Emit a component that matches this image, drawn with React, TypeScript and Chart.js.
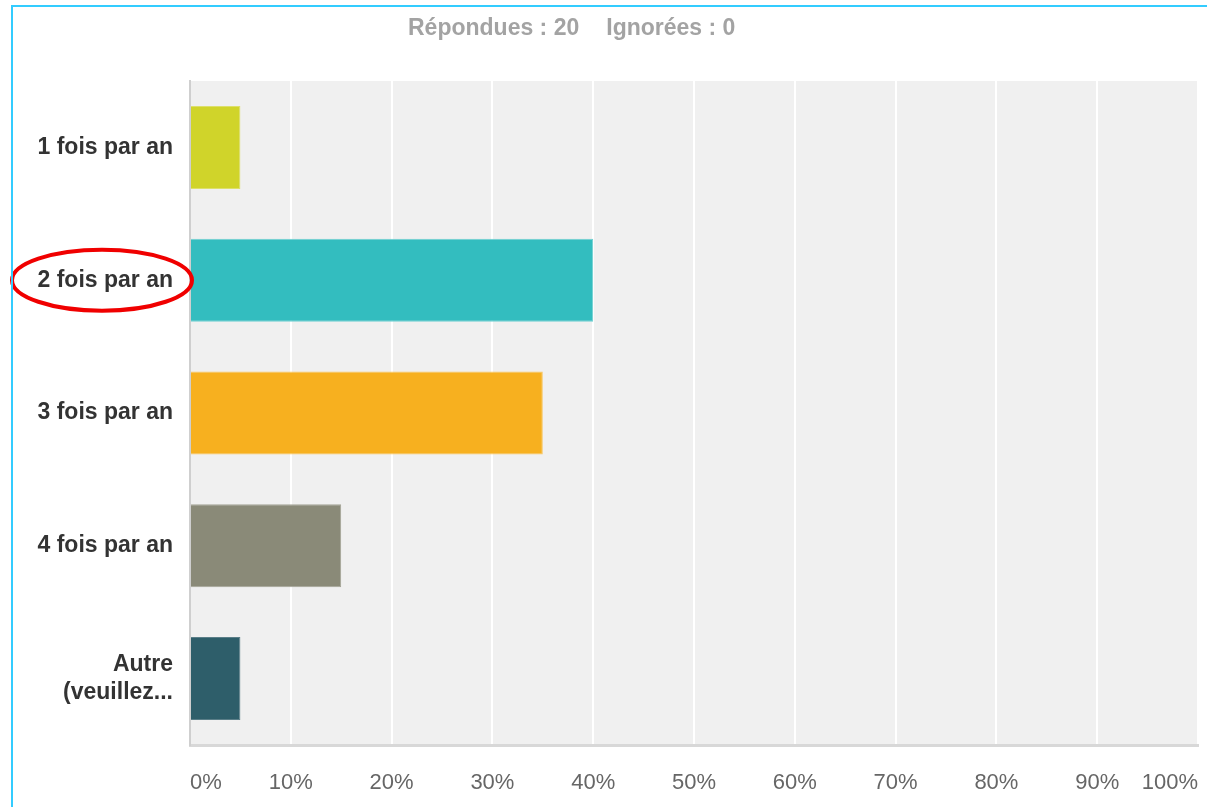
import React, { useEffect, useRef } from "react";
import { Chart, registerables } from "chart.js";

Chart.register(...registerables);

const categories: (string | string[])[] = [
  "1 fois par an",
  "2 fois par an",
  "3 fois par an",
  "4 fois par an",
  ["Autre", "(veuillez..."],
];
const percentages = [5, 40, 35, 15, 5];
const barColors = ["#d0d42a", "#33bdbf", "#f7b01f", "#8a8a78", "#2e5e6a"];
const barEdges = ["#dde06a", "#6fd0d1", "#f9c55e", "#a3a395", "#5a7e88"];
const tickValues = [0, 10, 20, 30, 40, 50, 60, 70, 80, 90, 100];
const headerAnswered = "Répondues : 20";
const headerSkipped = "Ignorées : 0";
const highlightedIndex = 1;

const FONT = "'Liberation Sans', Arial, sans-serif";

const plotBackground = {
  id: "plotBackground",
  beforeDraw(chart: any) {
    const { ctx, chartArea } = chart;
    ctx.save();
    ctx.fillStyle = "#f0f0f0";
    ctx.fillRect(chartArea.left, chartArea.top, chartArea.right - chartArea.left, chartArea.bottom - chartArea.top);
    ctx.restore();
  },
};

const highlightEllipse = {
  id: "highlightEllipse",
  afterDraw(chart: any) {
    const { ctx, chartArea } = chart;
    const y = chart.scales.y;
    const cy = y.getPixelForValue(highlightedIndex);
    const cx = chartArea.left - 88;
    ctx.save();
    ctx.strokeStyle = "#f00000";
    ctx.lineWidth = 4;
    ctx.beginPath();
    ctx.ellipse(cx, cy, 90, 30.5, 0, 0, Math.PI * 2);
    ctx.stroke();
    ctx.restore();
  },
};

export default function App() {
  const canvasRef = useRef<HTMLCanvasElement | null>(null);

  useEffect(() => {
    document.body.style.margin = "0";
    const canvas = canvasRef.current;
    if (!canvas) return;
    const chart = new Chart(canvas, {
      type: "bar",
      data: {
        labels: categories,
        datasets: [
          {
            data: percentages,
            backgroundColor: barColors,
            borderColor: barEdges,
            borderWidth: 1,
            barPercentage: 0.625,
            categoryPercentage: 1,
          },
        ],
      },
      options: {
        indexAxis: "y",
        animation: false,
        responsive: false,
        devicePixelRatio: 1,
        layout: { padding: { left: 0, right: 9, top: 81, bottom: 0 } },
        plugins: {
          legend: { display: false },
          tooltip: { enabled: false },
        },
        scales: {
          x: {
            min: 0,
            max: 100,
            afterBuildTicks: (scale: any) => {
              scale.ticks = tickValues.map((v) => ({ value: v }));
            },
            afterFit: (scale: any) => {
              scale.height = 62;
              scale.paddingLeft = 0;
              scale.paddingRight = 0;
            },
            ticks: {
              callback: (v: any) => v + "%",
              color: "#666666",
              font: { family: FONT, size: 22 },
              padding: 25,
              align: "inner",
              maxRotation: 0,
              autoSkip: false,
            },
            grid: {
              color: (c: any) => (c.index === 0 ? "rgba(0,0,0,0)" : "#ffffff"),
              lineWidth: 2,
              drawTicks: false,
            },
            border: { display: true, color: "#d8d8d8", width: 3 },
          },
          y: {
            afterFit: (scale: any) => {
              scale.width = 190;
              scale.paddingTop = 0;
              scale.paddingBottom = 0;
            },
            ticks: {
              color: "#333333",
              font: { family: FONT, size: 23, weight: "bold" },
              padding: 17,
            },
            grid: { display: false, drawTicks: false },
            border: { display: true, color: "#cfcfcf", width: 2 },
          },
        },
      },
      plugins: [plotBackground, highlightEllipse],
    } as any);
    return () => chart.destroy();
  }, []);

  return (
    <div style={{ position: "absolute", left: 0, top: 0, width: 1207, height: 807, background: "#ffffff", overflow: "hidden" }}>
      <canvas ref={canvasRef} width={1207} height={807} style={{ position: "absolute", left: 0, top: 0 }} />
      <div
        style={{
          position: "absolute",
          left: 11,
          top: 5,
          width: 1196,
          height: 802,
          borderLeft: "2px solid #33ccff",
          borderTop: "2px solid #33ccff",
          pointerEvents: "none",
        }}
      />
      <div
        style={{
          position: "absolute",
          left: 408,
          top: 13,
          fontFamily: FONT,
          fontWeight: "bold",
          fontSize: 23,
          color: "#a3a3a3",
          whiteSpace: "pre",
          lineHeight: "28px",
        }}
      >
        <span>{headerAnswered}</span>
        <span style={{ marginLeft: 27 }}>{headerSkipped}</span>
      </div>
    </div>
  );
}
